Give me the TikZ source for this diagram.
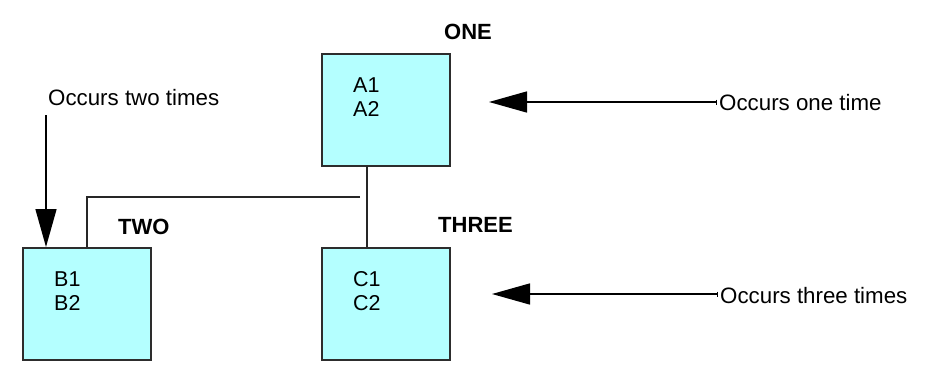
\documentclass[tikz,border=0pt]{standalone}
\usepackage{fontspec}
\setmainfont{Liberation Sans}
\usetikzlibrary{arrows.meta}
\definecolor{boxfill}{RGB}{180,255,255}
\definecolor{boxline}{RGB}{45,45,45}
\tikzset{
  entity/.style={draw=boxline, fill=boxfill, line width=1.8pt, minimum width=128pt, minimum height=112pt, inner sep=0pt, anchor=north west},
  lbl/.style={font=\fontsize{21.5}{24}\selectfont, inner sep=0pt, anchor=base west},
  note/.style={font=\fontsize{22.3}{24}\selectfont, inner sep=0pt, anchor=base west},
  title/.style={font=\fontsize{22}{24}\selectfont\bfseries, inner sep=0pt, anchor=base west},
  link/.style={line width=1.5pt, draw=black!85},
  pointer/.style={line width=1.5pt, {Bar[width=5pt,line width=1.2pt]}-{Triangle[length=38pt,width=21pt]}},
  pointerdown/.style={line width=1.5pt, -{Triangle[length=38pt,width=21pt]}}
}
\begin{document}
\begin{tikzpicture}[x=1pt,y=-1pt]
\useasboundingbox (0,0) rectangle (947,380);
% boxes
\node[entity] (one) at (321,53) {};
\node[entity] (two) at (22,247) {};
\node[entity] (three) at (321,247) {};
% titles
\node[title] (tone) at (444,39) {ONE};
\node[title] (ttwo) at (118,234) {TWO};
\node[title] (tthree) at (438,232) {THREE};
% contents
\node[lbl] (a1) at (353,92) {A1};
\node[lbl] (a2) at (353,116) {A2};
\node[lbl] (b1) at (54,286) {B1};
\node[lbl] (b2) at (54,310) {B2};
\node[lbl] (c1) at (353,286) {C1};
\node[lbl] (c2) at (353,310) {C2};
% notes
\node[note] (ntwo) at (48,105) {Occurs two times};
\node[note] (none) at (719,110) {Occurs one time};
\node[note] (nthree) at (720,303) {Occurs three times};
% connectors
\coordinate (ob) at (367,166);
\coordinate (tt) at (367,247);
\coordinate (j) at (360,197);
\draw[link] (ob) -- (tt);
\draw[link] (j) -| (two.north);
% pointers
\coordinate (p1) at (489,102);
\coordinate (p3) at (492,294);
\coordinate (p2s) at (46,115);
\coordinate (p2e) at (46,247);
\draw[pointer] ([xshift=-2pt]none.west |- p1) -- (p1);
\draw[pointer] ([xshift=-2pt]nthree.west |- p3) -- (p3);
\draw[pointerdown] (p2s) -- (p2e);
\end{tikzpicture}
\end{document}
